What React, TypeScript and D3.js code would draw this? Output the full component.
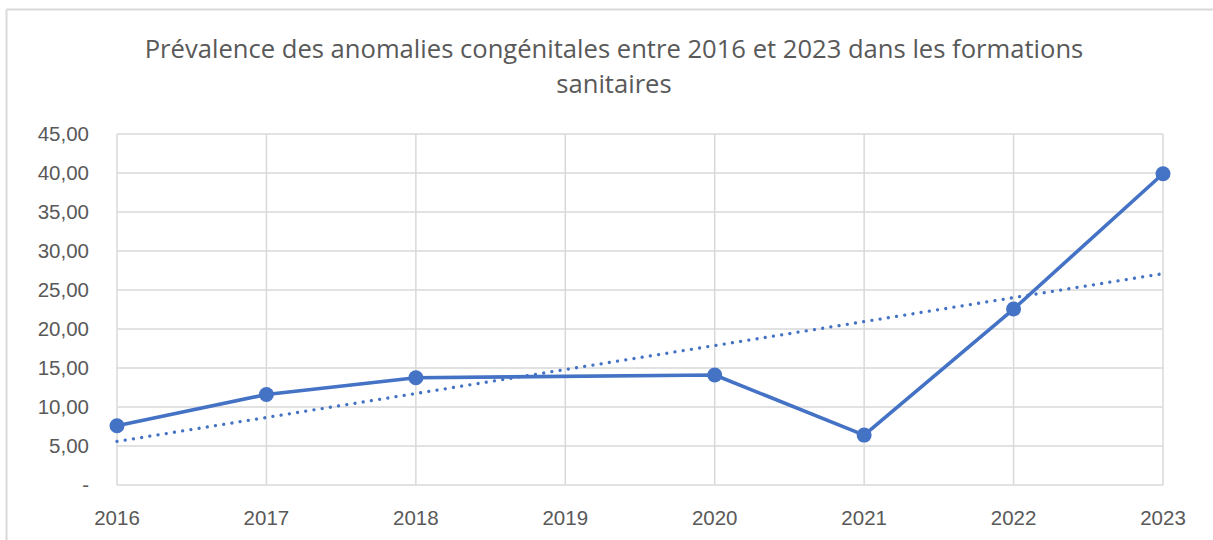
import React from "react";
import * as d3 from "d3";

const years = ["2016", "2017", "2018", "2019", "2020", "2021", "2022", "2023"];
const prevalence: (number | null)[] = [7.6, 11.6, 13.75, null, 14.1, 6.4, 22.56, 39.9];
const yTicks = [0, 5, 10, 15, 20, 25, 30, 35, 40, 45];
const titleLines = [
  "Prévalence des anomalies congénitales entre 2016 et 2023 dans les formations",
  "sanitaires",
];

const W = 1213;
const H = 540;
const FONT = "'Liberation Sans', Arial, sans-serif";
const TITLE_FONT = "'Open Sans', 'Liberation Sans', sans-serif";
const BLUE = "#4472C4";
const GRID = "#d9d9d9";
const TEXT = "#595959";

export default function App() {
  const x = d3.scalePoint<string>().domain(years).range([117, 1163]);
  const y = d3.scaleLinear().domain([0, 45]).range([485, 134]);

  const pts = years
    .map((yr, i) => ({ yr, i: i + 1, v: prevalence[i] }))
    .filter((d) => d.v !== null) as { yr: string; i: number; v: number }[];

  // linear trend (least squares on category index, as Excel does)
  const mx = d3.mean(pts, (d) => d.i)!;
  const my = d3.mean(pts, (d) => d.v)!;
  const sxy = d3.sum(pts, (d) => (d.i - mx) * (d.v - my));
  const sxx = d3.sum(pts, (d) => (d.i - mx) ** 2);
  const slope = sxy / sxx;
  const icpt = my - slope * mx;
  const trend = [years[0], years[years.length - 1]].map((yr) => {
    const idx = years.indexOf(yr) + 1;
    return { yr, v: icpt + slope * idx };
  });

  const line = d3
    .line<{ yr: string; v: number }>()
    .x((d) => x(d.yr)!)
    .y((d) => y(d.v));

  const fmt = (v: number) => (v === 0 ? "-" : d3.format(".2f")(v).replace(".", ","));

  return (
    <svg
      width={W}
      height={H}
      style={{ position: "absolute", left: 0, top: 0, background: "#fff" }}
      fontFamily={FONT}
    >
      <rect x={0} y={0} width={W} height={H} fill="#fff" />
      {/* chart border */}
      <line x1={6.5} x2={W} y1={9.5} y2={9.5} stroke={GRID} strokeWidth={2} />
      <line x1={6.5} x2={6.5} y1={9.5} y2={H} stroke={GRID} strokeWidth={2} />

      {/* title */}
      {titleLines.map((t, i) => (
        <text
          key={i}
          x={614}
          y={58 + i * 35}
          textAnchor="middle"
          fontSize={25.6}
          fill={TEXT}
          fontFamily={TITLE_FONT}
        >
          {t}
        </text>
      ))}

      {/* horizontal grid */}
      {yTicks.map((t) => (
        <line key={"h" + t} x1={117} x2={1163} y1={y(t)} y2={y(t)} stroke={GRID} strokeWidth={1.5} />
      ))}
      {/* vertical grid */}
      {years.map((yr) => (
        <line key={"v" + yr} x1={x(yr)} x2={x(yr)} y1={y(45)} y2={y(0)} stroke={GRID} strokeWidth={1.5} />
      ))}

      {/* y labels */}
      {yTicks.map((t) => (
        <text key={"yl" + t} x={89} y={y(t)} dy="0.35em" textAnchor="end" fontSize={20.5} fill={TEXT}>
          {fmt(t)}
        </text>
      ))}
      {/* x labels */}
      {years.map((yr) => (
        <text key={"xl" + yr} x={x(yr)} y={525} textAnchor="middle" fontSize={20.5} fill={TEXT}>
          {yr}
        </text>
      ))}

      {/* trend line */}
      <path
        d={line(trend)!}
        fill="none"
        stroke={BLUE}
        strokeWidth={3.3}
        strokeLinecap="round"
        strokeDasharray="0.01 8.3"
      />
      {/* data line */}
      <path d={line(pts)!} fill="none" stroke={BLUE} strokeWidth={3.6} strokeLinejoin="round" />
      {pts.map((d) => (
        <circle key={"c" + d.yr} cx={x(d.yr)} cy={y(d.v)} r={7.5} fill={BLUE} />
      ))}
    </svg>
  );
}
